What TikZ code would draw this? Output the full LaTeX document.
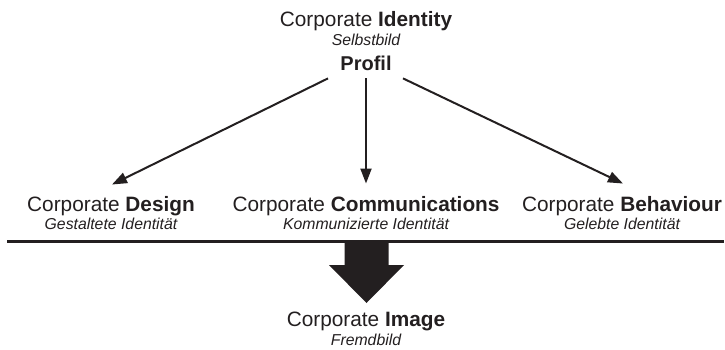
\documentclass[tikz,border=0pt]{standalone}
\usepackage{fontspec}
\setmainfont{Liberation Sans}
\usetikzlibrary{arrows.meta}
\definecolor{ink}{HTML}{231F20}
\begin{document}
\begin{tikzpicture}[x=1pt,y=-1pt,
  title/.style={inner sep=0pt, anchor=base, text=ink, font=\fontsize{20.8}{25}\selectfont},
  sub/.style={inner sep=0pt, anchor=base, text=ink, font=\fontsize{15.8}{19}\selectfont\itshape},
  arr/.style={draw=ink, line width=2pt, -{Triangle[length=15pt,width=11pt]}},
  rule/.style={draw=ink, line width=2.4pt}
]
\useasboundingbox (0,0) rectangle (725,350);
% top
\node[title] (identity) at (366,26.5) {Corporate \textbf{Identity}};
\node[sub] (selbst) at (366,45.5) {Selbstbild};
\node[title, font=\fontsize{20}{24}\selectfont\bfseries] (profil) at (366,71) {Profil};
% middle row
\node[title] (design) at (111,211.8) {Corporate \textbf{Design}};
\node[sub] (designsub) at (111,229.5) {Gestaltete Identität};
\node[title] (comm) at (366,211.8) {Corporate \textbf{Communications}};
\node[sub] (commsub) at (366,229.5) {Kommunizierte Identität};
\node[title] (behav) at (622,211.8) {Corporate \textbf{Behaviour}};
\node[sub] (behavsub) at (622,229.5) {Gelebte Identität};
% bottom
\node[title] (image) at (366,326.5) {Corporate \textbf{Image}};
\node[sub] (fremd) at (366,345) {Fremdbild};
% arrows
\draw[arr] ([xshift=-38pt,yshift=-7pt]profil.south) -- ([xshift=1pt,yshift=12pt]design.north);
\draw[arr] ([yshift=-7pt]profil.south) -- ([yshift=13pt]comm.north);
\draw[arr] ([xshift=37pt,yshift=-7pt]profil.south) -- ([xshift=1pt,yshift=13pt]behav.north);
% rule
\coordinate (ruleL) at (7,241.5);
\coordinate (ruleR) at (724,241.5);
\draw[rule] (ruleL) -- (ruleR);
% big arrow
\fill[ink] (344.5,242) -- (344.5,265) -- (329,265) -- (366.5,303) -- (404,265) -- (388.5,265) -- (388.5,242) -- cycle;
\end{tikzpicture}
\end{document}
